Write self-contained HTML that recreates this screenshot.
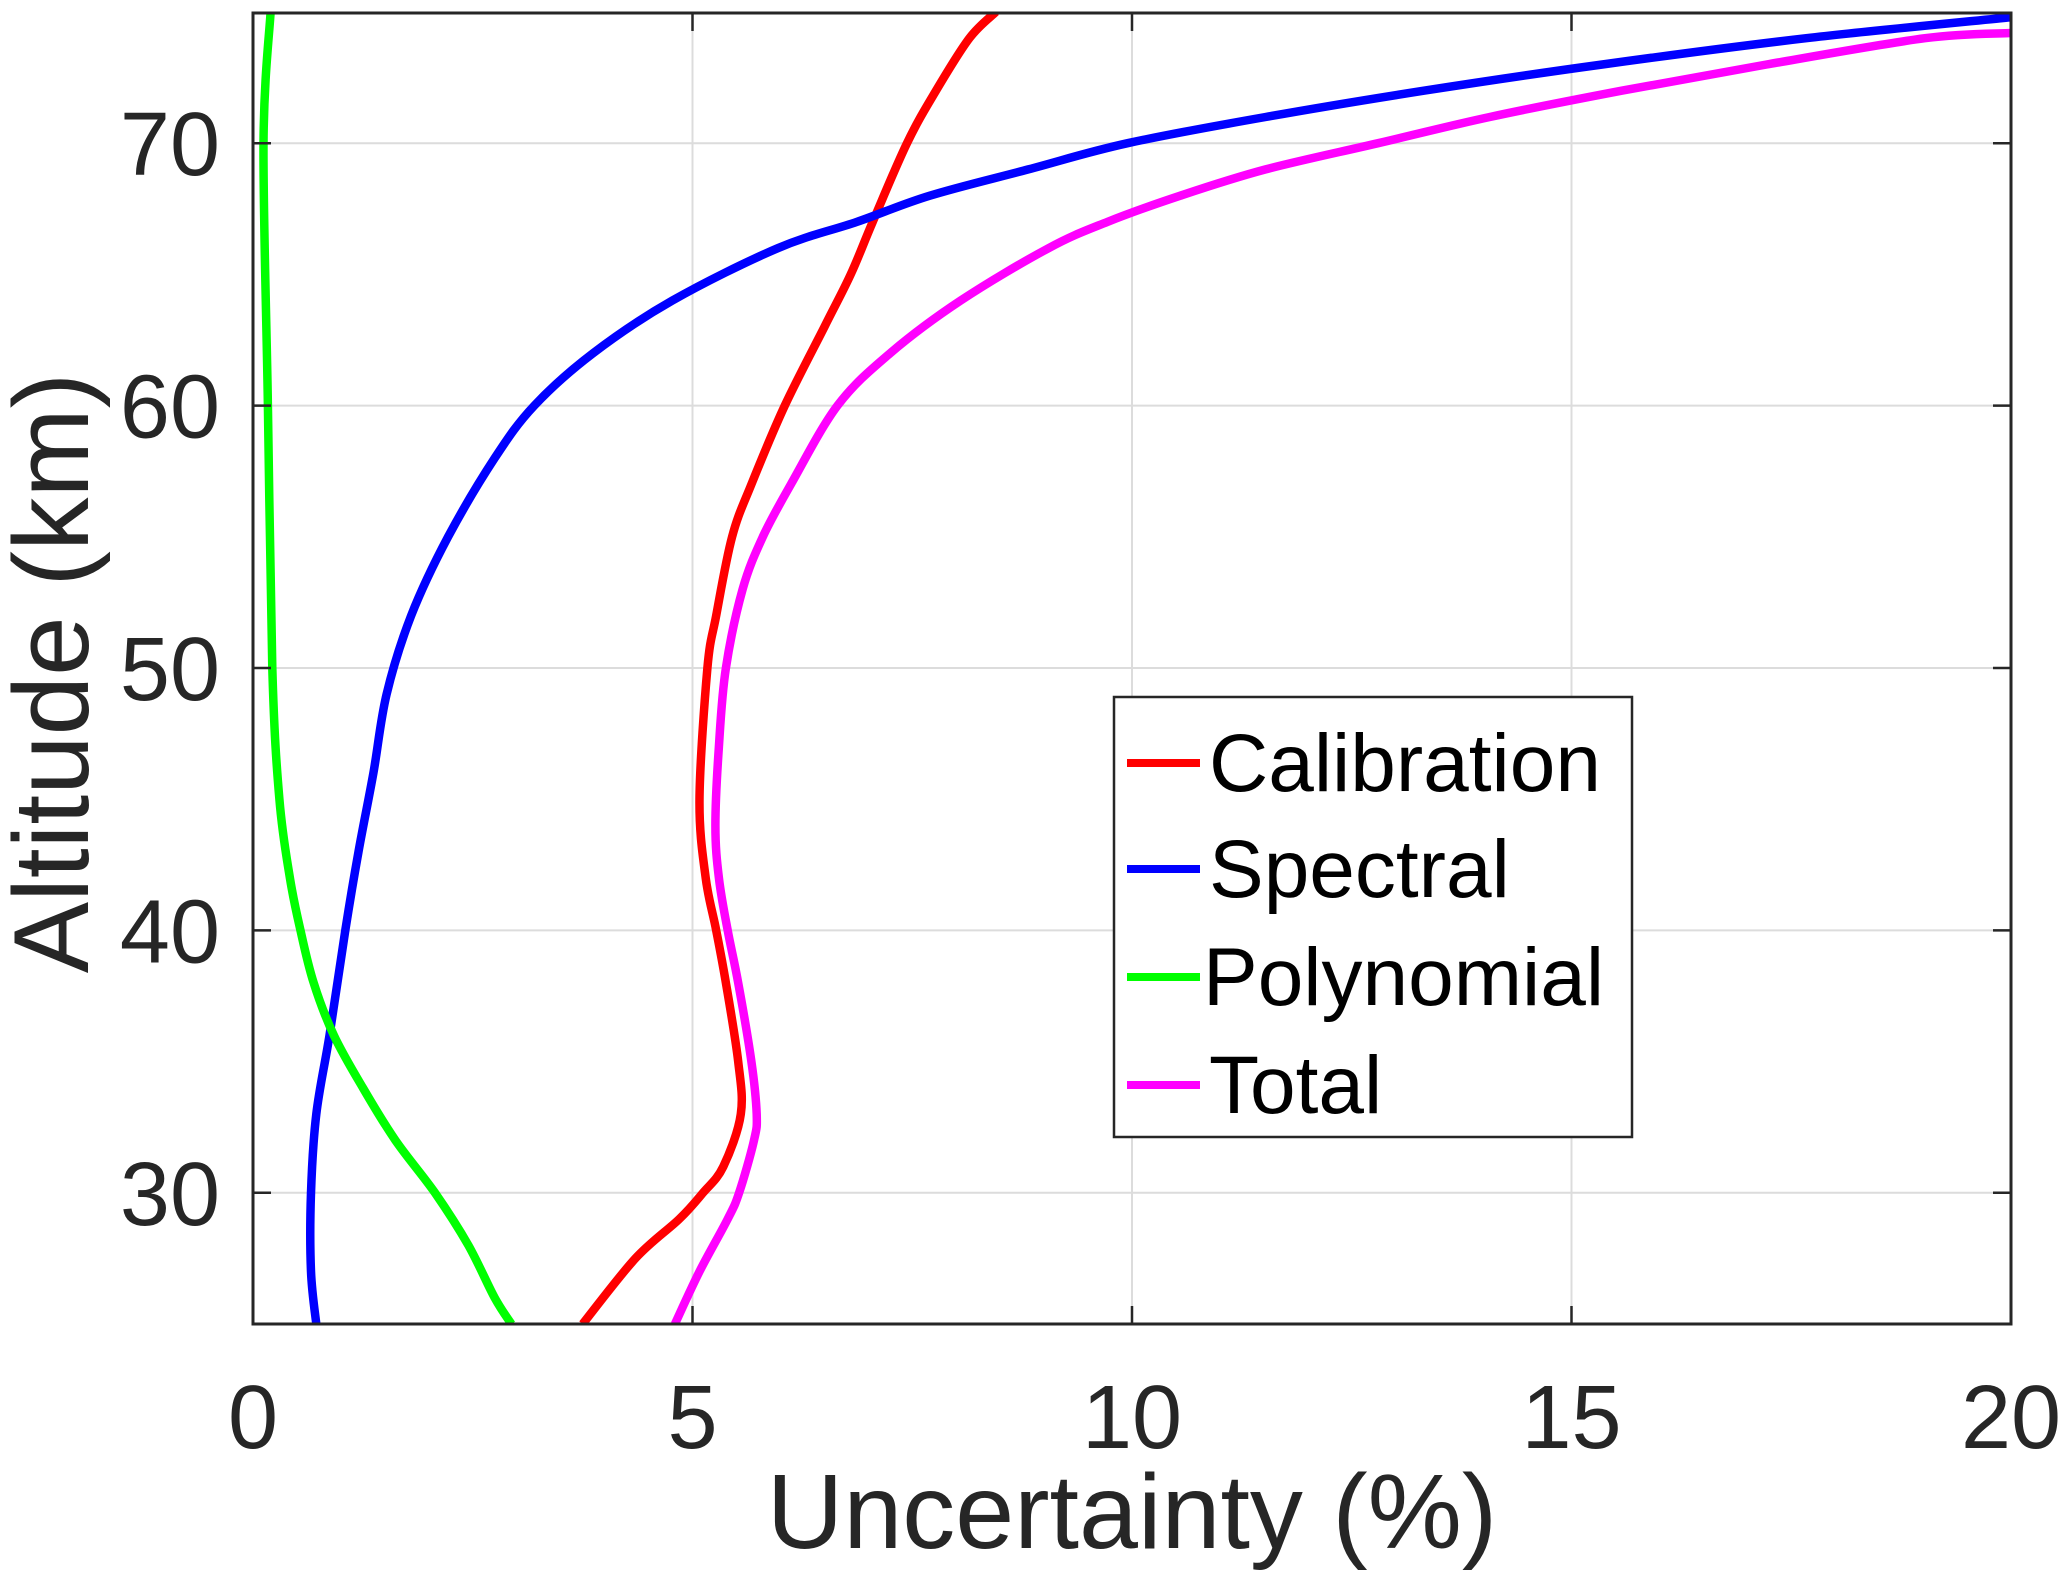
<!DOCTYPE html>
<html><head><meta charset="utf-8">
<style>
html,body{margin:0;padding:0;background:#fff;}
svg{display:block;font-family:"Liberation Sans",Arial,sans-serif;}
</style></head>
<body>
<svg id="chart" width="2067" height="1578" viewBox="0 0 2067 1578" xmlns="http://www.w3.org/2000/svg">
<defs><clipPath id="plotclip"><rect x="253" y="13" width="1758" height="1311"/></clipPath></defs>
<rect x="253" y="13" width="1758" height="1311" fill="#fff"/>
<g id="grid"></g>
<g id="series" clip-path="url(#plotclip)"></g>
<rect x="253" y="13" width="1758" height="1311" fill="none" stroke="#262626" stroke-width="3"/>
<g id="ticks"></g>
<text x="1132" y="1548" font-size="106" fill="#262626" text-anchor="middle">Uncertainty (%)</text>
<text transform="translate(88,673) rotate(-90)" font-size="107" fill="#262626" text-anchor="middle">Altitude (km)</text>
<g>
<rect x="1114" y="697" width="518" height="440" fill="#fff" stroke="#262626" stroke-width="2.5"/>
<line x1="1127" y1="763" x2="1200" y2="763" stroke="#ff0000" stroke-width="8"/>
<text x="1209" y="791" font-size="82" fill="#000">Calibration</text>
<line x1="1127" y1="869" x2="1200" y2="869" stroke="#0000ff" stroke-width="8"/>
<text x="1209" y="897" font-size="82" fill="#000">Spectral</text>
<line x1="1127" y1="977" x2="1200" y2="977" stroke="#00ff00" stroke-width="8"/>
<text x="1203" y="1005" font-size="82" fill="#000">Polynomial</text>
<line x1="1127" y1="1085" x2="1200" y2="1085" stroke="#ff00ff" stroke-width="8"/>
<text x="1209" y="1113" font-size="82" fill="#000">Total</text>
</g>
</svg>
<script>
const xTicks = [0, 5, 10, 15, 20];
const yTicks = [30, 40, 50, 60, 70];
const calAlt = [25, 27.5, 29, 30, 31, 33, 35, 38, 40, 42, 45, 50, 52, 55, 57, 60, 63, 65, 67, 70, 72, 74, 75];
const calVal = [3.75, 4.35, 4.85, 5.12, 5.35, 5.55, 5.52, 5.38, 5.27, 5.15, 5.08, 5.17, 5.27, 5.45, 5.67, 6.05, 6.5, 6.8, 7.05, 7.44, 7.77, 8.15, 8.45];
const specAlt = [25, 27, 30, 33, 36, 40, 43, 46, 49, 52, 55, 58, 60, 62, 64, 66, 67, 68, 69, 70, 71, 72, 73, 74, 74.8];
const specVal = [0.72, 0.66, 0.66, 0.72, 0.87, 1.05, 1.2, 1.37, 1.52, 1.8, 2.22, 2.75, 3.2, 3.87, 4.77, 5.97, 6.87, 7.7, 8.82, 9.95, 11.52, 13.32, 15.35, 17.67, 20];
const polyAlt = [25, 26, 28, 30, 32, 34, 36, 38, 40, 42, 45, 50, 60, 70, 75];
const polyVal = [2.94, 2.75, 2.45, 2.07, 1.62, 1.25, 0.92, 0.69, 0.54, 0.42, 0.3, 0.22, 0.17, 0.12, 0.2];
const totAlt = [25, 27, 29, 30, 32, 33, 35, 38, 40, 42, 44, 47, 50, 53, 55, 57, 60, 62, 64, 66, 67, 68, 69, 70, 71, 72, 73, 74, 74.2];
const totVal = [4.8, 5.08, 5.4, 5.53, 5.7, 5.73, 5.67, 5.52, 5.4, 5.3, 5.26, 5.3, 5.38, 5.57, 5.8, 6.12, 6.65, 7.25, 8.05, 9.05, 9.72, 10.55, 11.52, 12.8, 14.07, 15.57, 17.22, 19.02, 20];

const NS = 'http://www.w3.org/2000/svg';
const X0 = 253, X1 = 2011, Y0 = 1324, Y1 = 12;
function xs(v){ return X0 + (v - 0) / 20 * (X1 - X0); }
function ys(a){ return Y0 - (a - 25) / 50 * (Y0 - Y1); }

const grid = document.getElementById('grid');
const ticks = document.getElementById('ticks');
xTicks.forEach(function(t){
  const x = xs(t);
  if (t > 0 && t < 20) {
    const g = document.createElementNS(NS, 'line');
    
    
    g.setAttribute('x1', x); g.setAttribute('x2', x); g.setAttribute('y1', 13); g.setAttribute('y2', 1324);
    g.setAttribute('stroke', '#dcdcdc'); g.setAttribute('stroke-width', '2');
    grid.appendChild(g);
    const tk = document.createElementNS(NS, 'path');
    
    
    tk.setAttribute('d', 'M' + x + ' 1324V1306M' + x + ' 13V31');
    tk.setAttribute('stroke', '#262626'); tk.setAttribute('stroke-width', '2.5');
    ticks.appendChild(tk);
  }
  const lb = document.createElementNS(NS, 'text');
  
  
  lb.setAttribute('x', x); lb.setAttribute('y', 1448);
  lb.setAttribute('text-anchor', 'middle'); lb.setAttribute('font-size', '90'); lb.setAttribute('fill', '#262626');
  lb.textContent = t;
  ticks.appendChild(lb);
});
yTicks.forEach(function(t){
  const y = ys(t);
  const g = document.createElementNS(NS, 'line');
  
  
  g.setAttribute('x1', 253); g.setAttribute('x2', 2011); g.setAttribute('y1', y); g.setAttribute('y2', y);
  g.setAttribute('stroke', '#dcdcdc'); g.setAttribute('stroke-width', '2');
  grid.appendChild(g);
  const tk = document.createElementNS(NS, 'path');
  
  
  tk.setAttribute('d', 'M253 ' + y + 'H271M2011 ' + y + 'H1993');
  tk.setAttribute('stroke', '#262626'); tk.setAttribute('stroke-width', '2.5');
  ticks.appendChild(tk);
  const lb = document.createElementNS(NS, 'text');
  
  
  lb.setAttribute('x', 220); lb.setAttribute('y', y + 32);
  lb.setAttribute('text-anchor', 'end'); lb.setAttribute('font-size', '90'); lb.setAttribute('fill', '#262626');
  lb.textContent = t;
  ticks.appendChild(lb);
});

function smoothPath(vals, alts){
  const p = vals.map(function(v, i){ return [xs(v), ys(alts[i])]; });
  let d = 'M' + p[0][0].toFixed(1) + ' ' + p[0][1].toFixed(1);
  for (let i = 0; i < p.length - 1; i++) {
    const p0 = p[Math.max(0, i - 1)], p1 = p[i], p2 = p[i + 1], p3 = p[Math.min(p.length - 1, i + 2)];
    const c1x = p1[0] + (p2[0] - p0[0]) / 6, c1y = p1[1] + (p2[1] - p0[1]) / 6;
    const c2x = p2[0] - (p3[0] - p1[0]) / 6, c2y = p2[1] - (p3[1] - p1[1]) / 6;
    d += 'C' + c1x.toFixed(1) + ' ' + c1y.toFixed(1) + ' ' + c2x.toFixed(1) + ' ' + c2y.toFixed(1) + ' ' + p2[0].toFixed(1) + ' ' + p2[1].toFixed(1);
  }
  return d;
}
const series = document.getElementById('series');
function addLine(vals, alts, color, name){
  const path = document.createElementNS(NS, 'path');
  
  
  path.setAttribute('d', smoothPath(vals, alts));
  path.setAttribute('fill', 'none');
  path.setAttribute('stroke', color);
  path.setAttribute('stroke-width', '8.5');
  path.setAttribute('stroke-linejoin', 'round');
  series.appendChild(path);
}
addLine(calVal, calAlt, '#ff0000', 'calibration-line');
addLine(specVal, specAlt, '#0000ff', 'spectral-line');
addLine(polyVal, polyAlt, '#00ff00', 'polynomial-line');
addLine(totVal, totAlt, '#ff00ff', 'total-line');
</script>
</body></html>
